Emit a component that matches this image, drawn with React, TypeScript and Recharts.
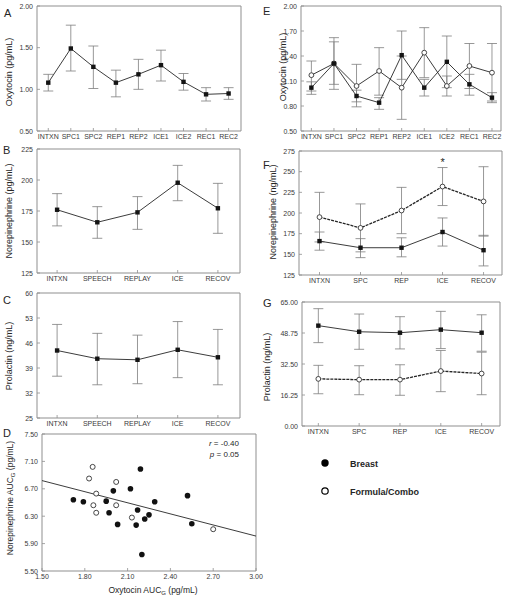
import React from 'react';
import {
  LineChart,
  Line,
  XAxis,
  YAxis,
  ErrorBar,
  ReferenceArea,
  ReferenceDot,
  ReferenceLine,
  ScatterChart,
  Scatter,
} from 'recharts';

const FONT = '"Liberation Sans", Arial, Helvetica, sans-serif';
const INK = '#262626';
const FRAME = '#8f8f8f';
const WHISKER = '#7d7d7d';
const TICK_TEXT = '#3a3a3a';

// ---- categories
const phases9 = ['INTXN', 'SPC1', 'SPC2', 'REP1', 'REP2', 'ICE1', 'ICE2', 'REC1', 'REC2'];
const phasesLong = ['INTXN', 'SPEECH', 'REPLAY', 'ICE', 'RECOV'];
const phasesShort = ['INTXN', 'SPC', 'REP', 'ICE', 'RECOV'];

// ---- A: oxytocin (pg/mL), all mothers
const oxyAll = [1.08, 1.49, 1.27, 1.08, 1.18, 1.29, 1.09, 0.94, 0.95];
const oxyAllLo = [0.98, 1.22, 1.01, 0.91, 1.0, 1.1, 0.99, 0.86, 0.88];
const oxyAllHi = [1.18, 1.77, 1.52, 1.23, 1.36, 1.47, 1.19, 1.02, 1.02];

// ---- B: norepinephrine (pg/mL), all mothers
const neAll = [176, 165.9, 173.9, 197.8, 177.2];
const neAllLo = [163, 153.0, 160.2, 183.3, 157.0];
const neAllHi = [189, 178.5, 186.6, 211.8, 197.3];

// ---- C: prolactin (ng/mL), all mothers
const prlAll = [43.9, 41.6, 41.3, 44.1, 42.0];
const prlAllLo = [36.7, 34.3, 34.6, 36.3, 34.3];
const prlAllHi = [51.2, 48.7, 48.2, 52.0, 49.8];

// ---- D: AUC scatter (oxytocin x, norepinephrine y)
const breastAuc: [number, number][] = [
  [1.72, 6.54], [1.79, 6.51], [1.95, 6.52], [1.97, 6.35], [2.0, 6.67], [2.03, 6.18],
  [2.12, 6.7], [2.19, 6.99], [2.17, 6.39], [2.16, 6.17], [2.2, 5.74], [2.22, 6.26],
  [2.25, 6.32], [2.29, 6.51], [2.52, 6.6], [2.55, 6.19],
];
const formulaAuc: [number, number][] = [
  [1.855, 7.02], [1.83, 6.85], [2.02, 6.8], [1.88, 6.63], [1.86, 6.46], [1.88, 6.35],
  [2.02, 6.46], [2.13, 6.28], [2.7, 6.11],
];
const fitLine: [number, number][] = [[1.5, 6.82], [3.0, 6.01]];

// ---- E: oxytocin by feeding group
const oxyBreast = [1.02, 1.31, 0.92, 0.84, 1.41, 1.02, 1.33, 1.06, 0.9];
const oxyBreastLo = [0.94, 1.0, 0.85, 0.76, 1.12, 0.92, 1.02, 0.93, 0.84];
const oxyBreastHi = [1.09, 1.62, 0.99, 0.9, 1.7, 1.12, 1.64, 1.18, 0.96];
const oxyFormula = [1.17, 1.31, 1.04, 1.22, 1.02, 1.44, 1.04, 1.28, 1.2];
const oxyFormulaLo = [0.98, 1.06, 0.79, 0.93, 0.64, 1.14, 0.92, 1.01, 0.86];
const oxyFormulaHi = [1.34, 1.57, 1.3, 1.5, 1.4, 1.74, 1.16, 1.55, 1.55];

// ---- F: norepinephrine by feeding group
const neBreast = [166, 158, 158, 177, 155];
const neBreastLo = [155, 146, 147, 160, 136];
const neBreastHi = [177, 169, 170, 194, 173];
const neFormula = [195, 182, 203, 232, 214];
const neFormulaLo = [165, 153, 175, 209, 172];
const neFormulaHi = [225, 211, 231, 255, 256];
const neSigIndex = 3;
const neSigLevel = 263;

// ---- G: prolactin by feeding group
const prlBreast = [52.6, 49.4, 48.9, 50.5, 48.9];
const prlBreastLo = [43.7, 40.2, 40.4, 40.6, 39.2];
const prlBreastHi = [61.5, 58.7, 57.3, 60.1, 58.3];
const prlFormula = [24.7, 24.3, 24.3, 28.8, 27.5];
const prlFormulaLo = [16.9, 16.4, 16.1, 18.0, 16.4];
const prlFormulaHi = [31.8, 31.6, 32.1, 39.6, 38.7];

type Box = { x0: number; y0: number; x1: number; y1: number };
type Series = { values: number[]; lo: number[]; hi: number[]; filled: boolean; dashed?: boolean };

// chart canvas padding round the plot box (room for ticks labels)
const PAD_L = 40;
const PAD_T = 10;
const PAD_R = 14;
const PAD_B = 20;

const squareDot = (p: any) => (
  <rect key={`sq-${p.index}`} x={p.cx - 2.2} y={p.cy - 2.2} width={4.4} height={4.4} fill="#141414" />
);
const ringDot = (p: any) => (
  <circle key={`rg-${p.index}`} cx={p.cx} cy={p.cy} r={2.4} fill="#fff" stroke="#333" strokeWidth={0.9} />
);

// inward tick marks, label outside
const makeXTick = (labels: string[] | null, digits = 2) => (p: any) => {
  const v = p.payload.value;
  const text = labels ? labels[v] : Number(v).toFixed(digits);
  return (
    <g>
      <line x1={p.x} x2={p.x} y1={p.y} y2={p.y - 3} stroke={FRAME} strokeWidth={0.8} />
      <text x={p.x} y={p.y + 8} textAnchor="middle" fontSize={7} fill={TICK_TEXT} fontFamily={FONT}>
        {text}
      </text>
    </g>
  );
};
const makeYTick = (digits: number) => (p: any) => (
  <g>
    <line x1={p.x} x2={p.x + 3} y1={p.y} y2={p.y} stroke={FRAME} strokeWidth={0.8} />
    <text x={p.x - 4} y={p.y + 2.5} textAnchor="end" fontSize={7} fill={TICK_TEXT} fontFamily={FONT}>
      {Number(p.payload.value).toFixed(digits)}
    </text>
  </g>
);

function LinePanel({
  box, cats, xDomain, yDomain, yTicks, yDigits, series, children,
}: {
  box: Box; cats: string[]; xDomain: [number, number]; yDomain: [number, number];
  yTicks: number[]; yDigits: number; series: Series[]; children?: React.ReactNode;
}) {
  const w = box.x1 - box.x0;
  const h = box.y1 - box.y0;
  const rows = cats.map((_, i) => {
    const r: any = { i };
    series.forEach((s, k) => {
      r[`v${k}`] = s.values[i];
      r[`e${k}`] = [s.values[i] - s.lo[i], s.hi[i] - s.values[i]];
    });
    return r;
  });
  return (
    <div style={{ position: 'absolute', left: box.x0 - PAD_L, top: box.y0 - PAD_T }}>
      <LineChart width={w + PAD_L + PAD_R} height={h + PAD_T + PAD_B} data={rows}
        margin={{ top: PAD_T, right: PAD_R, bottom: 0, left: 0 }}>
        <XAxis dataKey="i" type="number" domain={xDomain} ticks={cats.map((_, i) => i)} interval={0} height={PAD_B}
          axisLine={false} tickLine={false} tickSize={0} tickMargin={0} tick={makeXTick(cats)} allowDataOverflow />
        <YAxis type="number" domain={yDomain} ticks={yTicks} interval={0} width={PAD_L}
          axisLine={false} tickLine={false} tickSize={0} tickMargin={0} tick={makeYTick(yDigits)} allowDataOverflow />
        <ReferenceArea x1={xDomain[0]} x2={xDomain[1]} y1={yDomain[0]} y2={yDomain[1]} fill="none"
          fillOpacity={0} stroke={FRAME} strokeWidth={1} ifOverflow="visible" />
        {series.map((s, k) => (
          <Line key={k} dataKey={`v${k}`} type="linear" stroke={INK}
            strokeWidth={s.dashed ? 1.3 : 0.9} strokeDasharray={s.dashed ? '3 1' : undefined}
            dot={s.filled ? squareDot : ringDot} activeDot={false} isAnimationActive={false}>
            <ErrorBar dataKey={`e${k}`} direction="y" width={5} stroke={WHISKER} strokeWidth={0.8} />
          </Line>
        ))}
        {children}
      </LineChart>
    </div>
  );
}

function ScatterPanel({ box }: { box: Box }) {
  const w = box.x1 - box.x0;
  const h = box.y1 - box.y0;
  const breast = breastAuc.map(([x, y]) => ({ x, y }));
  const formula = formulaAuc.map(([x, y]) => ({ x, y }));
  return (
    <div style={{ position: 'absolute', left: box.x0 - PAD_L, top: box.y0 - PAD_T }}>
      <ScatterChart width={w + PAD_L + PAD_R} height={h + PAD_T + PAD_B}
        margin={{ top: PAD_T, right: PAD_R, bottom: 0, left: 0 }}>
        <XAxis dataKey="x" type="number" domain={[1.5, 3.0]} ticks={[1.5, 1.8, 2.1, 2.4, 2.7, 3.0]} interval={0}
          height={PAD_B} axisLine={false} tickLine={false} tickSize={0} tickMargin={0} tick={makeXTick(null, 2)} allowDataOverflow />
        <YAxis dataKey="y" type="number" domain={[5.5, 7.5]} ticks={[5.5, 5.9, 6.3, 6.7, 7.1, 7.5]} interval={0}
          width={PAD_L} axisLine={false} tickLine={false} tickSize={0} tickMargin={0} tick={makeYTick(2)} allowDataOverflow />
        <ReferenceArea x1={1.5} x2={3.0} y1={5.5} y2={7.5} fill="none" fillOpacity={0} stroke={FRAME}
          strokeWidth={1} ifOverflow="visible" />
        <ReferenceLine segment={fitLine.map(([x, y]) => ({ x, y }))} stroke={INK} strokeWidth={0.9} ifOverflow="visible" />
        <Scatter data={breast} isAnimationActive={false}
          shape={(p: any) => <circle cx={p.cx} cy={p.cy} r={2.8} fill="#111" />} />
        <Scatter data={formula} isAnimationActive={false}
          shape={(p: any) => <circle cx={p.cx} cy={p.cy} r={2.5} fill="#fff" stroke="#333" strokeWidth={0.9} />} />
      </ScatterChart>
    </div>
  );
}

const yTitle = (x: number, y: number, text: React.ReactNode, size = 9) => (
  <text x={x} y={y} transform={`rotate(-90 ${x} ${y})`} textAnchor="middle" fontSize={size} fill={INK} fontFamily={FONT}>
    {text}
  </text>
);
const letter = (x: number, y: number, t: string) => (
  <text x={x} y={y} fontSize={11} fill={INK} fontFamily={FONT}>{t}</text>
);

export default function App() {
  return (
    <div style={{ position: 'absolute', left: 0, top: 0, width: 506, height: 599, background: '#fff', fontFamily: FONT }}>
      <LinePanel box={{ x0: 37, y0: 6, x1: 241, y1: 131 }} cats={phases9} xDomain={[-0.5, 8.55]}
        yDomain={[0.5, 2.0]} yTicks={[0.5, 1.0, 1.5, 2.0]} yDigits={2}
        series={[{ values: oxyAll, lo: oxyAllLo, hi: oxyAllHi, filled: true }]} />
      <LinePanel box={{ x0: 37, y0: 149, x1: 240, y1: 273 }} cats={phasesLong} xDomain={[-0.5, 4.55]}
        yDomain={[125, 225]} yTicks={[125, 150, 175, 200, 225]} yDigits={0}
        series={[{ values: neAll, lo: neAllLo, hi: neAllHi, filled: true }]} />
      <LinePanel box={{ x0: 37, y0: 293, x1: 240, y1: 418 }} cats={phasesLong} xDomain={[-0.5, 4.55]}
        yDomain={[25, 60]} yTicks={[25, 32, 39, 46, 53, 60]} yDigits={0}
        series={[{ values: prlAll, lo: prlAllLo, hi: prlAllHi, filled: true }]} />
      <ScatterPanel box={{ x0: 42, y0: 434, x1: 256, y1: 571 }} />

      <LinePanel box={{ x0: 301, y0: 6, x1: 501, y1: 131 }} cats={phases9} xDomain={[-0.46, 8.4]}
        yDomain={[0.5, 2.0]} yTicks={[0.5, 0.8, 1.1, 1.4, 1.7, 2.0]} yDigits={2}
        series={[
          { values: oxyFormula, lo: oxyFormulaLo, hi: oxyFormulaHi, filled: false },
          { values: oxyBreast, lo: oxyBreastLo, hi: oxyBreastHi, filled: true },
        ]} />
      <LinePanel box={{ x0: 299, y0: 151, x1: 502, y1: 275 }} cats={phasesShort} xDomain={[-0.5, 4.45]}
        yDomain={[125, 275]} yTicks={[125, 150, 175, 200, 225, 250, 275]} yDigits={0}
        series={[
          { values: neFormula, lo: neFormulaLo, hi: neFormulaHi, filled: false, dashed: true },
          { values: neBreast, lo: neBreastLo, hi: neBreastHi, filled: true },
        ]}>
        <ReferenceDot x={neSigIndex} y={neSigLevel} r={0} ifOverflow="visible"
          shape={(p: any) => (
            <text x={p.cx} y={p.cy + 5} textAnchor="middle" fontSize={11} fill={INK} fontFamily={FONT}>*</text>
          )} />
      </LinePanel>
      <LinePanel box={{ x0: 302, y0: 302, x1: 500, y1: 426 }} cats={phasesShort} xDomain={[-0.4, 4.45]}
        yDomain={[0, 65]} yTicks={[0, 16.25, 32.5, 48.75, 65]} yDigits={2}
        series={[
          { values: prlFormula, lo: prlFormulaLo, hi: prlFormulaHi, filled: false, dashed: true },
          { values: prlBreast, lo: prlBreastLo, hi: prlBreastHi, filled: true },
        ]} />

      <svg width={506} height={599} style={{ position: 'absolute', left: 0, top: 0, pointerEvents: 'none' }}>
        {letter(4, 17, 'A')}
        {letter(3, 154, 'B')}
        {letter(3, 304, 'C')}
        {letter(3, 437, 'D')}
        {letter(263, 15, 'E')}
        {letter(263, 169, 'F')}
        {letter(263, 307, 'G')}

        {yTitle(12, 72, 'Oxytocin  (pg/mL)')}
        {yTitle(12, 211, 'Norepinephrine (pg/mL)')}
        {yTitle(12, 356, 'Prolactin (ng/mL)')}
        {yTitle(12.5, 498, <>Norepinephrine AUC<tspan fontSize={6} dy={2}>G</tspan><tspan dy={-2}> (pg/mL)</tspan></>, 8.5)}
        {yTitle(285.5, 67, 'Oxytocin  (pg/mL)')}
        {yTitle(276, 212, 'Norepinephrine (ng/mL)')}
        {yTitle(270, 367, 'Prolactin (ng/mL)')}

        <text x={153} y={593} textAnchor="middle" fontSize={8.5} fill={INK} fontFamily={FONT}>
          Oxytocin AUC<tspan fontSize={6} dy={2}>G</tspan><tspan dy={-2}> (pg/mL)</tspan>
        </text>
        <text x={239} y={446} textAnchor="end" fontSize={8} fill={INK} fontFamily={FONT}>
          <tspan fontStyle="italic">r</tspan> = -0.40
        </text>
        <text x={239} y={457} textAnchor="end" fontSize={8} fill={INK} fontFamily={FONT}>
          <tspan fontStyle="italic">p</tspan> = 0.05
        </text>

        <circle cx={325} cy={463} r={3.7} fill="#000" />
        <text x={350} y={467} fontSize={9} fontWeight="bold" fill={INK} fontFamily={FONT}>Breast</text>
        <circle cx={325} cy={491} r={3.2} fill="#fff" stroke="#000" strokeWidth={1.2} />
        <text x={350} y={495} fontSize={9} fontWeight="bold" fill={INK} fontFamily={FONT}>Formula/Combo</text>
      </svg>
    </div>
  );
}
